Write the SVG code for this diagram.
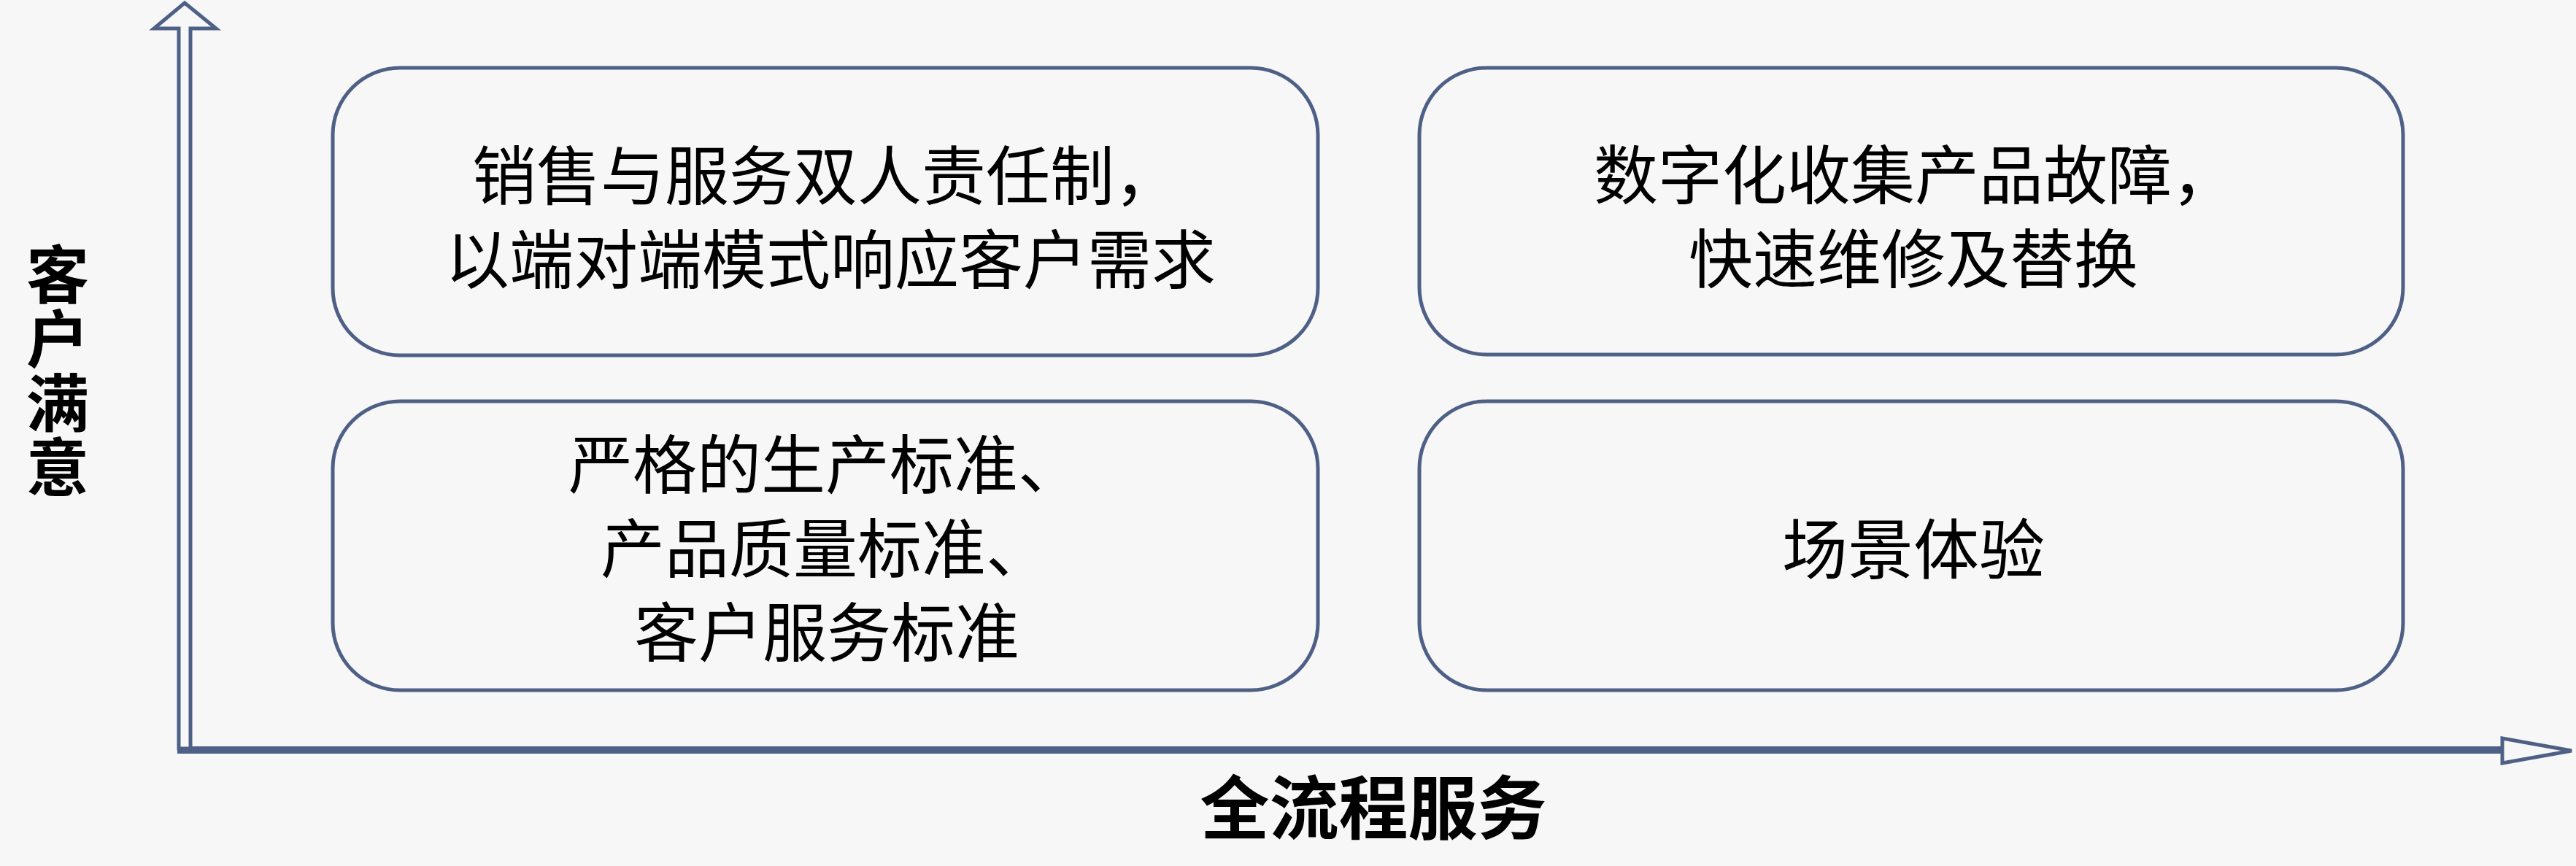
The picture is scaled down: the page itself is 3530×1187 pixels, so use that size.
<svg xmlns="http://www.w3.org/2000/svg" width="3530" height="1187" viewBox="0 0 3530 1187">
<style>
.bg{fill:#f7f7f7}
.box{fill:none;stroke:#4e6086;stroke-width:5}
.t{font-family:"Noto Sans CJK SC","Noto Sans",sans-serif;fill:#000;text-anchor:middle}
.tb{font-size:88px}
.tc{font-size:90px}
.lab{font-weight:bold}
.yl{font-size:86px;writing-mode:vertical-rl;text-anchor:start;letter-spacing:2px}
.axis{fill:#4e6086}
.head{fill:#f7f7f7;stroke:#4e6086;stroke-width:5;stroke-linejoin:miter}
</style>
<rect class="bg" x="0" y="0" width="3530" height="1187"/>
<g id="connectors">
  <rect class="axis" x="243" y="1023" width="3187" height="10"/>
  <polygon class="head" points="3429,1012 3524,1029 3429,1046"/>
  <polygon class="head" points="245,1026 245,39 211,39 253,4 296,39 261,39 261,1026"/>
</g>
<g id="node1">
  <rect class="box" x="456" y="93" width="1350" height="394" rx="92" ry="92"/>
  <text class="t tb" x="1131" y="273">销售与服务双人责任制，</text>
  <text class="t tb" x="1138" y="388">以端对端模式响应客户需求</text>
</g>
<g id="node2">
  <rect class="box" x="1945" y="93" width="1348" height="393" rx="92" ry="92"/>
  <text class="t tb" x="2624" y="272">数字化收集产品故障，</text>
  <text class="t tb" x="2622" y="387">快速维修及替换</text>
</g>
<g id="node3">
  <rect class="box" x="456" y="550" width="1350" height="396" rx="92" ry="92"/>
  <text class="t tb" x="1131" y="669">严格的生产标准、</text>
  <text class="t tb" x="1131" y="784">产品质量标准、</text>
  <text class="t tb" x="1133" y="899">客户服务标准</text>
</g>
<g id="node4">
  <rect class="box" x="1945" y="550" width="1348" height="396" rx="92" ry="92"/>
  <text class="t tc" x="2622" y="786">场景体验</text>
</g>
<g id="ylabel">
  <text class="t lab yl" x="79" y="333">客户满意</text>
</g>
<g id="xlabel">
  <text class="t lab" font-size="95" x="1882" y="1143">全流程服务</text>
</g>
</svg>
